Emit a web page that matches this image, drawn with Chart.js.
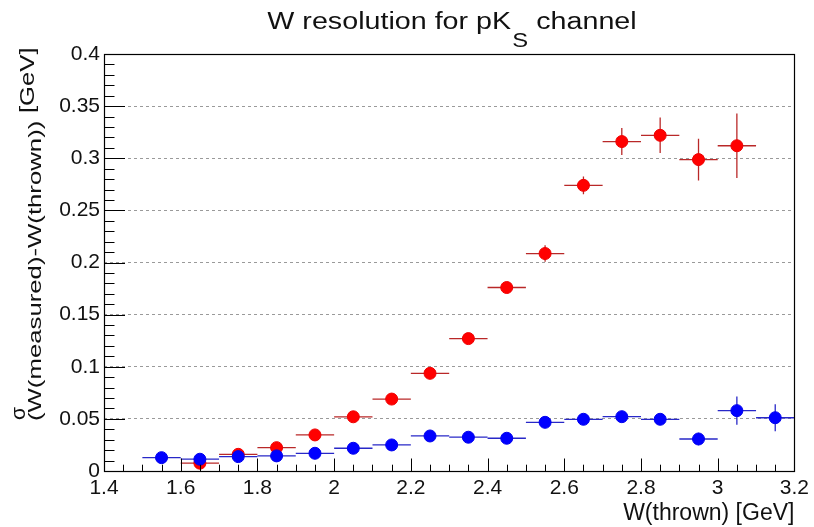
<!DOCTYPE html>
<html>
<head>
<meta charset="utf-8">
<script src="https://cdn.jsdelivr.net/npm/chart.js@4.4.0/dist/chart.umd.min.js"></script>
<style>
  html, body { margin:0; padding:0; background:#fff; }
  #wrap { position:relative; width:814px; height:527px; overflow:hidden; background:#fff; }
  #c { position:absolute; left:0; top:0; }
  .txt { position:absolute; font-family:'Liberation Sans', Arial, Helvetica, sans-serif; color:#111; line-height:1; white-space:nowrap; }
  #title { left:452px; top:10px; font-size:23.5px; transform-origin:50% 0; transform:translateX(-50%) scaleX(1.22); }
  #title .sub { position:relative; top:18px; font-size:19.5px; margin-left:1px; }
  .rot { transform-origin:0 0; }
  #ysig { left:7px; top:420px; font-size:21px; transform:rotate(-90deg); }
  #ysub { left:26px; top:421px; font-size:18px; transform:rotate(-90deg) scaleX(1.43); }
  #ygev { left:16px; top:113px; font-size:21px; transform:rotate(-90deg) scaleX(1.22); }
</style>
</head>
<body>
<div id="wrap">
  <canvas id="c" width="814" height="527"></canvas>
  <div id="title" class="txt">W resolution for pK<span class="sub">S</span> channel</div>
  <div id="ysig" class="txt rot">σ</div>
  <div id="ysub" class="txt rot">(W(measured)-W(thrown))</div>
  <div id="ygev" class="txt rot">[GeV]</div>
</div>
<script>
// ---- data ----
const binHalfWidth = 0.05;

const redX   = [1.65, 1.75, 1.85, 1.95, 2.05, 2.15, 2.25, 2.35, 2.45, 2.55, 2.65, 2.75, 2.85, 2.95, 3.05];
const redY   = [0.0075, 0.016, 0.0224, 0.0346, 0.052, 0.069, 0.0937, 0.127, 0.176, 0.2086, 0.274, 0.316, 0.322, 0.2987, 0.312];
const redErr = [0.002, 0.002, 0.002, 0.003, 0.003, 0.004, 0.004, 0.005, 0.005, 0.008, 0.0086, 0.013, 0.017, 0.02, 0.031];

const blueX   = [1.55, 1.65, 1.75, 1.85, 1.95, 2.05, 2.15, 2.25, 2.35, 2.45, 2.55, 2.65, 2.75, 2.85, 2.95, 3.05, 3.15];
const blueY   = [0.0128, 0.0113, 0.0138, 0.0145, 0.017, 0.0218, 0.025, 0.0336, 0.0324, 0.0314, 0.0467, 0.0496, 0.0521, 0.0496, 0.0307, 0.0579, 0.0511];
const blueErr = [0.002, 0.002, 0.002, 0.002, 0.002, 0.002, 0.003, 0.003, 0.003, 0.003, 0.004, 0.004, 0.004, 0.004, 0.006, 0.0136, 0.013];

const xTickValues = [1.4, 1.6, 1.8, 2.0, 2.2, 2.4, 2.6, 2.8, 3.0, 3.2];
const xTickLabels = ['1.4', '1.6', '1.8', '2', '2.2', '2.4', '2.6', '2.8', '3', '3.2'];
const yTickValues = [0, 0.05, 0.1, 0.15, 0.2, 0.25, 0.3, 0.35, 0.4];
const yTickLabels = ['0', '0.05', '0.1', '0.15', '0.2', '0.25', '0.3', '0.35', '0.4'];
const xMinorStep = 0.05;
const yMinorStep = 0.01;
const xAxisTitle = 'W(thrown) [GeV]';

// ---- build points ----
function pts(xs, ys, es) {
  return xs.map((x, i) => ({ x: x, y: ys[i], xe: binHalfWidth, ye: es[i] }));
}

const FONT = "'Liberation Sans', Arial, Helvetica, sans-serif";

const errorBars = {
  id: 'errorBars',
  beforeDatasetsDraw(chart) {
    const { ctx, chartArea, scales: { x, y } } = chart;
    ctx.save();
    ctx.beginPath();
    ctx.rect(chartArea.left, chartArea.top, chartArea.right - chartArea.left, chartArea.bottom - chartArea.top);
    ctx.clip();
    chart.data.datasets.forEach(ds => {
      ctx.strokeStyle = ds.errColor;
      ctx.lineWidth = 1.3;
      ds.data.forEach(p => {
        const px = x.getPixelForValue(p.x);
        const py = y.getPixelForValue(p.y);
        ctx.beginPath();
        ctx.moveTo(x.getPixelForValue(p.x - p.xe), py);
        ctx.lineTo(x.getPixelForValue(p.x + p.xe), py);
        ctx.moveTo(px, y.getPixelForValue(p.y - p.ye));
        ctx.lineTo(px, y.getPixelForValue(p.y + p.ye));
        ctx.stroke();
      });
    });
    ctx.restore();
  }
};

const frameTicks = {
  id: 'frameTicks',
  afterDatasetsDraw(chart) {
    const { ctx, chartArea: a, scales: { x, y } } = chart;
    ctx.save();
    ctx.strokeStyle = '#000';
    ctx.lineWidth = 1;
    const nx = Math.round((x.max - x.min) / xMinorStep);
    const xMajorEvery = Math.round((xTickValues[1] - xTickValues[0]) / xMinorStep);
    ctx.beginPath();
    for (let i = 0; i <= nx; i++) {
      const v = x.min + i * xMinorStep;
      const px = Math.round(x.getPixelForValue(v)) + 0.5;
      const len = (i % xMajorEvery === 0) ? 12.5 : 6.3;
      ctx.moveTo(px, a.bottom);
      ctx.lineTo(px, a.bottom - len);
    }
    const ny = Math.round((y.max - y.min) / yMinorStep);
    const yMajorEvery = Math.round((yTickValues[1] - yTickValues[0]) / yMinorStep);
    for (let i = 0; i <= ny; i++) {
      const v = y.min + i * yMinorStep;
      const py = Math.round(y.getPixelForValue(v)) + 0.5;
      const len = (i % yMajorEvery === 0) ? 21 : 10.5;
      ctx.moveTo(a.left, py);
      ctx.lineTo(a.left + len, py);
    }
    ctx.stroke();
    ctx.lineWidth = 1.2;
    ctx.strokeRect(Math.round(a.left) + 0.5, Math.round(a.top) + 0.5, Math.round(a.right - a.left), Math.round(a.bottom - a.top));
    ctx.restore();
  }
};

new Chart(document.getElementById('c'), {
  type: 'scatter',
  data: {
    datasets: [
      {
        label: 'blue',
        data: pts(blueX, blueY, blueErr),
        backgroundColor: '#0000ff',
        borderColor: '#0000ee',
        borderWidth: 1,
        pointRadius: 6,
        errColor: 'rgb(40,40,200)'
      },
      {
        label: 'red',
        data: pts(redX, redY, redErr),
        backgroundColor: '#ff0000',
        borderColor: '#ee0000',
        borderWidth: 1,
        pointRadius: 6,
        errColor: 'rgb(185,40,40)'
      }
    ]
  },
  options: {
    responsive: false,
    animation: false,
    devicePixelRatio: 1,
    layout: { padding: { top: 54, right: 18, left: 0, bottom: 0 } },
    plugins: { legend: { display: false }, tooltip: { enabled: false }, title: { display: false } },
    scales: {
      x: {
        type: 'linear',
        min: xTickValues[0],
        max: xTickValues[xTickValues.length - 1],
        afterBuildTicks: s => { s.ticks = xTickValues.map(v => ({ value: v })); },
        afterFit: s => { s.height = 56; },
        border: { display: false },
        grid: { display: false, drawTicks: false },
        ticks: {
          autoSkip: false, maxRotation: 0, padding: 5,
          color: '#111', font: { family: FONT, size: 21 },
          callback: (v, i) => xTickLabels[i]
        },
        title: {
          display: true, text: xAxisTitle, align: 'end', color: '#111',
          font: { family: FONT, size: 23 }, padding: { top: 0, bottom: 0 }
        }
      },
      y: {
        type: 'linear',
        min: yTickValues[0],
        max: yTickValues[yTickValues.length - 1],
        afterBuildTicks: s => { s.ticks = yTickValues.map(v => ({ value: v })); },
        afterFit: s => { s.width = 104; },
        border: { display: false, dash: [3, 3] },
        grid: {
          drawTicks: false,
          color: '#9a9a9a',
          lineWidth: 1
        },
        ticks: {
          autoSkip: false, padding: 4, labelOffset: 0,
          color: '#111', font: { family: FONT, size: 21 },
          callback: (v, i) => yTickLabels[i]
        }
      }
    }
  },
  plugins: [errorBars, frameTicks]
});
</script>
</body>
</html>
